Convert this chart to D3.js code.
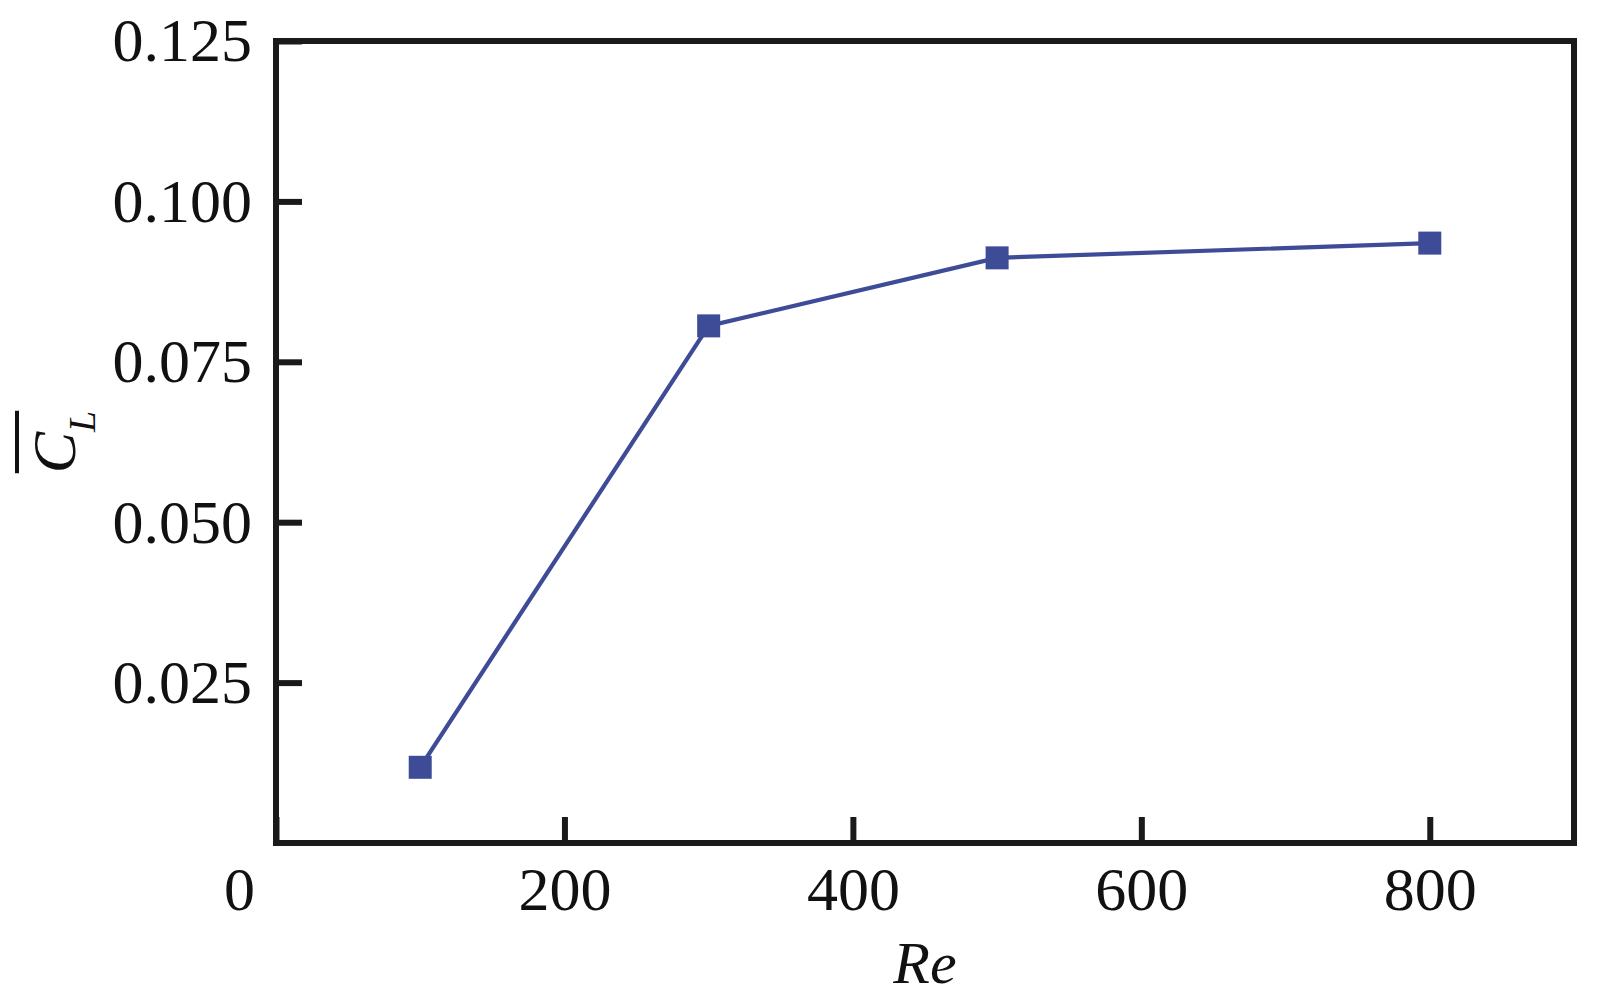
<!DOCTYPE html>
<html>
<head>
<meta charset="utf-8">
<script src="https://cdn.jsdelivr.net/npm/d3@7"></script>
<style>
  body { margin: 0; background: #fff; }
  svg { display: block; }
</style>
</head>
<body>
<div id="chart"></div>
<script>
// Mean lift coefficient against Reynolds number
const reynolds = [100, 300, 500, 800];
const liftMean = [0.0118, 0.0806, 0.0912, 0.0935];
const xTicks = [0, 200, 400, 600, 800];
const yTicks = [0.025, 0.050, 0.075, 0.100, 0.125];

const width = 1604;
const height = 1002;
const margin = {top: 41, right: 30, bottom: 159, left: 276};
const fontFamily = '"Liberation Serif", "Times New Roman", serif';
const lineColor = '#3e4b97';

const svg = d3.select('#chart')
  .append('svg')
  .attr('width', width)
  .attr('height', height);

svg.append('rect')
  .attr('width', width)
  .attr('height', height)
  .attr('fill', '#fff');

const x = d3.scaleLinear()
  .domain([0, 900])
  .range([margin.left, width - margin.right]);

const y = d3.scaleLinear()
  .domain([0, 0.125])
  .range([height - margin.bottom, margin.top]);

// x axis, ticks pointing inward
const xAxis = svg.append('g')
  .attr('transform', 'translate(0,' + y(0) + ')')
  .call(d3.axisBottom(x)
    .tickValues(xTicks)
    .tickFormat(d3.format('d'))
    .tickSizeInner(-26)
    .tickSizeOuter(0)
    .tickPadding(23));

// y axis
const yAxis = svg.append('g')
  .attr('transform', 'translate(' + x(0) + ',0)')
  .call(d3.axisLeft(y)
    .tickValues(yTicks)
    .tickFormat(d3.format('.3f'))
    .tickSizeInner(-26)
    .tickSizeOuter(0)
    .tickPadding(24));

[xAxis, yAxis].forEach(function(g) {
  g.select('.domain').remove();
  g.selectAll('.tick line')
    .attr('stroke', '#1a1a1a')
    .attr('stroke-width', 6);
  g.selectAll('.tick text')
    .attr('fill', '#111')
    .style('font-family', fontFamily)
    .style('font-size', '62px');
});

// the "0" label sits a bit left of the corner
xAxis.selectAll('.tick text')
  .filter(function(d) { return d === 0; })
  .attr('dx', -37);

// frame
svg.append('rect')
  .attr('x', x(0))
  .attr('y', y(0.125))
  .attr('width', x(900) - x(0))
  .attr('height', y(0) - y(0.125))
  .attr('fill', 'none')
  .attr('stroke', '#1a1a1a')
  .attr('stroke-width', 6);

// series
const points = reynolds.map(function(re, i) { return [re, liftMean[i]]; });

const line = d3.line()
  .x(function(d) { return x(d[0]); })
  .y(function(d) { return y(d[1]); });

svg.append('path')
  .datum(points)
  .attr('d', line)
  .attr('fill', 'none')
  .attr('stroke', lineColor)
  .attr('stroke-width', 4.2);

const markerSize = 23;
svg.selectAll('.marker')
  .data(points)
  .enter()
  .append('rect')
  .attr('class', 'marker')
  .attr('x', function(d) { return x(d[0]) - markerSize / 2; })
  .attr('y', function(d) { return y(d[1]) - markerSize / 2; })
  .attr('width', markerSize)
  .attr('height', markerSize)
  .attr('fill', lineColor);

// axis titles
svg.append('text')
  .attr('x', (x(0) + x(900)) / 2)
  .attr('y', 983)
  .attr('text-anchor', 'middle')
  .style('font-family', fontFamily)
  .style('font-size', '60px')
  .style('font-style', 'italic')
  .attr('fill', '#111')
  .text('Re');

const yTitle = svg.append('g')
  .attr('transform', 'translate(75,' + (y(0) + y(0.125)) / 2 + ') rotate(-90)');

const yText = yTitle.append('text')
  .attr('text-anchor', 'middle')
  .style('font-family', fontFamily)
  .style('font-size', '62px')
  .style('font-style', 'italic')
  .attr('fill', '#111');

yText.append('tspan').text('C');
yText.append('tspan')
  .attr('dy', 20)
  .style('font-size', '38px')
  .text('L');

// overline over the mean symbol
const box = yText.node().getBBox();
yTitle.append('line')
  .attr('x1', box.x)
  .attr('x2', box.x + box.width)
  .attr('y1', -58)
  .attr('y2', -58)
  .attr('stroke', '#111')
  .attr('stroke-width', 4);
</script>
</body>
</html>
